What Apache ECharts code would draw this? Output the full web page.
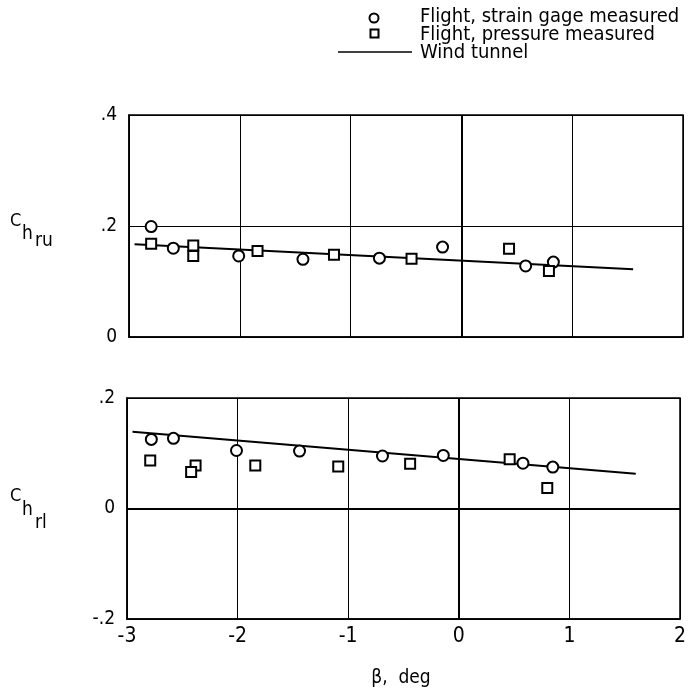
<!DOCTYPE html>
<html>
<head>
<meta charset="utf-8">
<script src="https://cdn.jsdelivr.net/npm/echarts@6/dist/echarts.min.js"></script>
<style>
  html, body { margin: 0; padding: 0; background: #fff; }
  #chart { width: 689px; height: 696px; }
</style>
</head>
<body>
<div id="chart"></div>
<script>
// Sideslip angle (deg) and rudder hinge-moment coefficients
const betaStrainRu = [-2.80, -2.60, -2.01, -1.43, -0.74, -0.17, 0.58, 0.83];
const chruStrain   = [0.199, 0.160, 0.146, 0.140, 0.142, 0.162, 0.128, 0.135];
const betaPressRu  = [-2.80, -2.42, -2.42, -1.84, -1.15, -0.45, 0.43, 0.79];
const chruPress    = [0.168, 0.165, 0.146, 0.155, 0.148, 0.141, 0.159, 0.119];
const betaWindRu   = [-2.95, 1.55];
const chruWind     = [0.167, 0.122];

const betaStrainRl = [-2.78, -2.58, -2.01, -1.44, -0.69, -0.14, 0.58, 0.85];
const chrlStrain   = [0.125, 0.127, 0.105, 0.104, 0.095, 0.096, 0.082, 0.075];
const betaPressRl  = [-2.79, -2.38, -2.42, -1.84, -1.09, -0.44, 0.46, 0.80];
const chrlPress    = [0.087, 0.078, 0.066, 0.078, 0.076, 0.081, 0.089, 0.037];
const betaWindRl   = [-2.95, 1.60];
const chrlWind     = [0.139, 0.063];

const xTicks   = [-3, -2, -1, 0, 1, 2];
const yTicksRu = [0, 0.2, 0.4];
const yTicksRl = [-0.2, 0, 0.2];

const legendLabels = ['Flight, strain gage measured', 'Flight, pressure measured', 'Wind tunnel'];

const FONT = "'Liberation Sans Narrow', 'DejaVu Sans Condensed', 'Liberation Sans', sans-serif";

const pairs = (xs, ys) => xs.map((x, i) => [x, ys[i]]);
const fmtY = v => {
  if (Math.abs(v) < 1e-9) return '0';
  const s = String(Math.abs(+v.toFixed(3))).replace(/^0/, '');
  return (v < 0 ? '-' : '') + s;
};

const markerStyle = { color: '#fff', borderColor: '#000', borderWidth: 2, opacity: 1 };

function scatter(name, idx, symbol, data) {
  return {
    name, type: 'scatter', xAxisIndex: idx, yAxisIndex: idx,
    symbol, symbolSize: symbol === 'circle' ? 11 : 10,
    itemStyle: markerStyle, data, z: 5, silent: true
  };
}
function windLine(idx, data, extraMark) {
  return {
    name: 'Wind tunnel', type: 'line', xAxisIndex: idx, yAxisIndex: idx,
    data, showSymbol: false, symbol: 'none',
    lineStyle: { color: '#000', width: 2 }, z: 4, silent: true,
    markLine: {
      silent: true, symbol: 'none', label: { show: false },
      lineStyle: { color: '#000', width: 2, type: 'solid' },
      data: extraMark
    }
  };
}

const gridCommon = { show: true, borderColor: '#000', borderWidth: 1.5, backgroundColor: 'transparent' };

function xAxis(idx, showLabels) {
  return {
    type: 'value', gridIndex: idx, min: xTicks[0], max: xTicks[xTicks.length - 1], interval: 1,
    axisLine: { show: true, lineStyle: { color: '#000', width: 1.5 }, onZero: false },
    axisTick: { show: false },
    splitLine: { show: true, lineStyle: { color: '#000', width: 1 } },
    axisLabel: {
      show: showLabels, color: '#000', fontFamily: FONT, fontSize: 21, margin: 7,
      formatter: v => String(v)
    }
  };
}
function yAxis(idx, ticks) {
  return {
    type: 'value', gridIndex: idx, min: ticks[0], max: ticks[ticks.length - 1], interval: 0.2,
    axisLine: { show: true, lineStyle: { color: '#000', width: 1.5 }, onZero: false },
    axisTick: { show: false },
    splitLine: { show: true, lineStyle: { color: '#000', width: 1 } },
    axisLabel: { color: '#000', fontFamily: FONT, fontSize: 19, margin: 12, formatter: fmtY }
  };
}

function txt(x, y, text, size, align) {
  return {
    type: 'text', x, y, silent: true,
    style: { text, fill: '#000', font: `${size}px ${FONT}`, align: align || 'left', verticalAlign: 'middle' }
  };
}

const chart = echarts.init(document.getElementById('chart'), null, { renderer: 'canvas' });
chart.setOption({
  animation: false,
  backgroundColor: '#fff',
  grid: [
    Object.assign({ left: 129, top: 115, width: 554, height: 222 }, gridCommon),
    Object.assign({ left: 127, top: 398, width: 555, height: 221 }, gridCommon)
  ],
  xAxis: [xAxis(0, false), xAxis(1, true)],
  yAxis: [yAxis(0, yTicksRu), yAxis(1, yTicksRl)],
  series: [
    windLine(0, pairs(betaWindRu, chruWind), [{ xAxis: 0 }]),
    scatter(legendLabels[0], 0, 'circle', pairs(betaStrainRu, chruStrain)),
    scatter(legendLabels[1], 0, 'rect', pairs(betaPressRu, chruPress)),
    windLine(1, pairs(betaWindRl, chrlWind), [{ xAxis: 0 }, { yAxis: 0 }]),
    scatter(legendLabels[0], 1, 'circle', pairs(betaStrainRl, chrlStrain)),
    scatter(legendLabels[1], 1, 'rect', pairs(betaPressRl, chrlPress))
  ],
  graphic: [
    // key
    { type: 'circle', shape: { cx: 374, cy: 18, r: 4.5 }, style: { fill: '#fff', stroke: '#000', lineWidth: 2 }, silent: true },
    { type: 'rect', shape: { x: 370.5, y: 29.5, width: 8, height: 8 }, style: { fill: '#fff', stroke: '#000', lineWidth: 2 }, silent: true },
    { type: 'line', shape: { x1: 338, y1: 52, x2: 412, y2: 52 }, style: { stroke: '#000', lineWidth: 1.5 }, silent: true },
    txt(420, 17, legendLabels[0], 20),
    txt(420, 35, legendLabels[1], 20),
    txt(420, 53, legendLabels[2], 20),
    // y-axis names with nested subscripts
    txt(10, 221, 'C', 18),
    txt(22, 234, 'h', 19),
    txt(35, 241, 'ru', 19),
    txt(10, 496, 'C', 18),
    txt(22, 510, 'h', 19),
    txt(35, 523, 'rl', 19),
    // x-axis name
    txt(401, 678, 'β,  deg', 19, 'center')
  ]
});
</script>
</body>
</html>
